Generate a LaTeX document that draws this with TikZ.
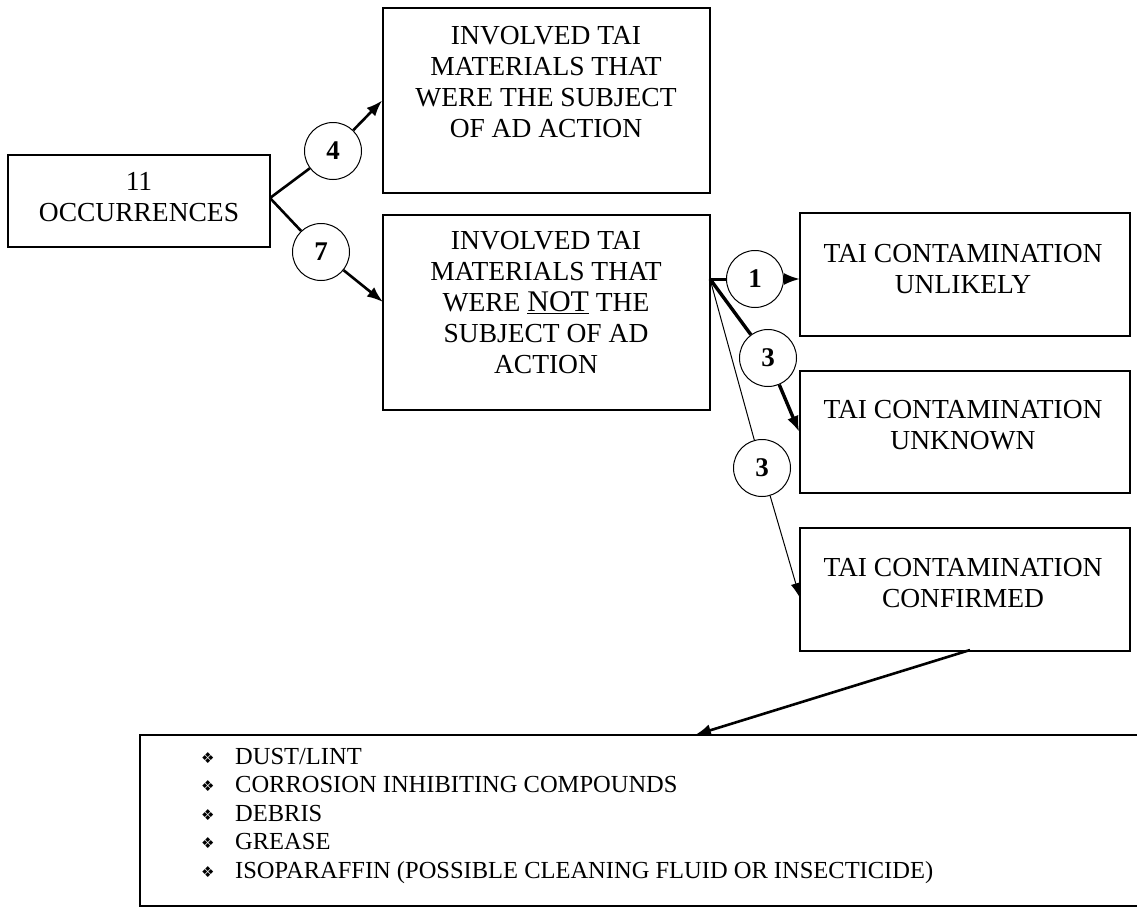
\documentclass[tikz,border=0pt]{standalone}
\usepackage{fontspec}
\setmainfont{Liberation Serif}
\newfontfamily\symfont{DejaVu Sans}
\usetikzlibrary{arrows.meta,calc}
\newcommand{\bul}{\makebox[34pt][l]{\symfont\fontsize{15}{15}\selectfont\raisebox{1pt}{❖}}}
\begin{document}
\begin{tikzpicture}[x=1pt,y=-1pt,
 box/.style={draw, line width=1.6pt, rectangle, inner sep=0pt},
 txt/.style={align=center, font=\fontsize{27.5}{31}\selectfont, inner sep=0pt},
 num/.style={circle, draw, line width=1pt, minimum size=57pt, inner sep=0pt, font=\fontsize{27}{27}\selectfont\bfseries},
 arr/.style={-{Latex[length=16pt,width=12pt]}},
 thickline/.style={line width=2.6pt},
 thinline/.style={line width=1pt},
]
\useasboundingbox (0,0) rectangle (1137,907);
% boxes
\node[box, minimum width=262pt, minimum height=92pt] (occ) at (139,201) {};
\node[box, minimum width=327pt, minimum height=185pt] (ad) at (546.5,100.5) {};
\node[box, minimum width=327pt, minimum height=195pt] (notad) at (546.5,312.5) {};
\node[box, minimum width=330pt, minimum height=123pt] (unlikely) at (965,274.5) {};
\node[box, minimum width=330pt, minimum height=122pt] (unknown) at (965,432) {};
\node[box, minimum width=330pt, minimum height=123pt] (confirmed) at (965,589.5) {};
\node[box, minimum width=1010pt, minimum height=171pt] (list) at (645,820.5) {};
% texts
\node[txt] (occt) at (139,197) {11\\OCCURRENCES};
\node[txt] (adt) at (546,82) {INVOLVED TAI\\MATERIALS THAT\\WERE THE SUBJECT\\OF AD ACTION};
\node[txt] (notadt) at (546,303) {INVOLVED TAI\\MATERIALS THAT\\WERE \underline{\fontsize{30}{31}\selectfont NOT} THE\\SUBJECT OF AD\\ACTION};
\node[txt] (unlikelyt) at (963,269) {TAI CONTAMINATION\\UNLIKELY};
\node[txt] (unknownt) at (963,425) {TAI CONTAMINATION\\UNKNOWN};
\node[txt] (confirmedt) at (963,583) {TAI CONTAMINATION\\CONFIRMED};
\node[anchor=north west, align=left, inner sep=0pt, font=\fontsize{24.5}{28.5}\selectfont] (items) at (201,748)
 {\bul DUST/LINT\\
  \bul CORROSION INHIBITING COMPOUNDS\\
  \bul DEBRIS\\
  \bul GREASE\\
  \bul ISOPARAFFIN (POSSIBLE CLEANING FLUID OR INSECTICIDE)};
% circles
\node[num] (c4) at (333,151) {4};
\node[num] (c7) at (321,252) {7};
\node[num] (c1) at (755,279) {1};
\node[num] (c3a) at (768,358) {3};
\node[num] (c3b) at (762,468) {3};
% junctions and targets
\coordinate (j1) at (270,198);
\coordinate (j2) at (710,279);
\coordinate (t7) at (383,302);
\coordinate (t1) at (800,279);
\coordinate (t3b) at (800,598);
\coordinate (s5) at (970,650);
\coordinate (t5) at (695,735);
% connectors
\draw[thickline] (j1) -- (c4);
\draw[thickline, arr] (c4) -- (ad.west);
\draw[thickline] (j1) -- (c7);
\draw[thickline, arr] (c7) -- (t7);
\draw[line width=3pt] (j2) -- (c1);
\draw[thickline, arr] (c1) -- (t1);
\draw[line width=3.4pt] (j2) -- (c3a);
\draw[line width=3.4pt, arr] (c3a) -- (unknown.west);
\draw[thinline] (j2) -- (c3b);
\draw[thinline, -{Latex[length=15pt,width=10pt]}] (c3b) -- (t3b);
\draw[thickline, arr] (s5) -- (t5);
\end{tikzpicture}
\end{document}
